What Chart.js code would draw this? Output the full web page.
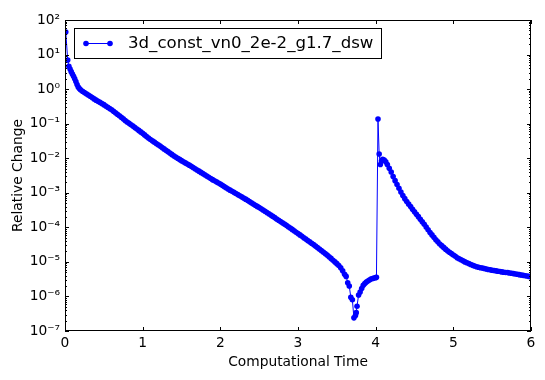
<!DOCTYPE html>
<html>
<head>
<meta charset="utf-8">
<script src="https://cdn.jsdelivr.net/npm/chart.js@4.4.1/dist/chart.umd.min.js"></script>
<style>
  html, body { margin: 0; padding: 0; background: #fff; }
  canvas { display: block; }
</style>
</head>
<body>
<canvas id="c" width="545" height="380"></canvas>
<script>
const seriesLabel = "3d_const_vn0_2e-2_g1.7_dsw";
const times = [
  0.01, 0.035, 0.05, 0.065, 0.08, 0.095, 0.11, 0.125, 0.14, 0.155, 0.17, 0.185, 0.2, 0.225,
  0.25, 0.275, 0.3, 0.325, 0.35, 0.375, 0.4, 0.425, 0.45, 0.475,
  0.5, 0.525, 0.55, 0.575, 0.6, 0.625, 0.65, 0.675, 0.7, 0.725,
  0.75, 0.775, 0.8, 0.825, 0.85, 0.875, 0.9, 0.925, 0.95, 0.975,
  1.0, 1.025, 1.05, 1.075, 1.1, 1.125, 1.15, 1.175, 1.2, 1.225,
  1.25, 1.275, 1.3, 1.325, 1.35, 1.375, 1.4, 1.425, 1.45, 1.475,
  1.5, 1.525, 1.55, 1.575, 1.6, 1.625, 1.65, 1.675, 1.7, 1.725,
  1.75, 1.775, 1.8, 1.825, 1.85, 1.875, 1.9, 1.925, 1.95, 1.975,
  2.0, 2.025, 2.05, 2.075, 2.1, 2.125, 2.15, 2.175, 2.2, 2.225,
  2.25, 2.275, 2.3, 2.325, 2.35, 2.375, 2.4, 2.425, 2.45, 2.475,
  2.5, 2.525, 2.55, 2.575, 2.6, 2.625, 2.65, 2.675, 2.7, 2.725,
  2.75, 2.775, 2.8, 2.825, 2.85, 2.875, 2.9, 2.925, 2.95, 2.975,
  3.0, 3.025, 3.05, 3.075, 3.1, 3.125, 3.15, 3.175, 3.2, 3.225,
  3.25, 3.275, 3.3, 3.325, 3.35, 3.375, 3.4, 3.425, 3.45, 3.475,
  3.5, 3.525, 3.55, 3.575, 3.6, 3.62, 3.64, 3.66, 3.68, 3.70,
  3.72, 3.74, 3.75, 3.76, 3.78, 3.80, 3.82, 3.84, 3.86, 3.88,
  3.90, 3.92, 3.94, 3.96, 3.98, 4.00, 4.01, 4.03, 4.045, 4.06,
  4.075, 4.09, 4.11, 4.13, 4.15, 4.175, 4.2, 4.225, 4.25, 4.275,
  4.3, 4.325, 4.35, 4.375, 4.4, 4.425, 4.45, 4.475, 4.5, 4.525,
  4.55, 4.575, 4.6, 4.625, 4.65, 4.675, 4.7, 4.725, 4.75, 4.775,
  4.8, 4.825, 4.85, 4.875, 4.9, 4.925, 4.95, 4.975, 5.0, 5.025,
  5.05, 5.075, 5.1, 5.125, 5.15, 5.175, 5.2, 5.225, 5.25, 5.275,
  5.3, 5.325, 5.35, 5.375, 5.4, 5.425, 5.45, 5.475, 5.5, 5.525,
  5.55, 5.575, 5.6, 5.625, 5.65, 5.675, 5.7, 5.725, 5.75, 5.775,
  5.8, 5.825, 5.85, 5.875, 5.9, 5.925, 5.95, 5.975, 6.0
];
const relChange = [
  45, 6.9, 4.6, 3.8, 3.2, 2.75, 2.35, 2.0, 1.65, 1.35, 1.15, 1.04, 0.96, 0.87,
  0.794, 0.733, 0.676, 0.620, 0.569, 0.521, 0.479, 0.444, 0.412, 0.382,
  0.355, 0.325, 0.299, 0.274, 0.251, 0.228, 0.207, 0.187, 0.170, 0.153,
  0.138, 0.124, 0.112, 0.102, 0.0933, 0.0851, 0.0776, 0.0704, 0.0638, 0.0578,
  0.0525, 0.0473, 0.0427, 0.0385, 0.0347, 0.0318, 0.0292, 0.0267, 0.0245, 0.0224,
  0.0204, 0.0186, 0.0170, 0.0155, 0.0141, 0.0129, 0.0117, 0.0108, 0.0100, 0.00923,
  0.00851, 0.00789, 0.00733, 0.00679, 0.00631, 0.00582, 0.00537, 0.00495, 0.00457, 0.00422,
  0.00389, 0.00359, 0.00331, 0.00305, 0.00282, 0.00260, 0.00240, 0.00222, 0.00207, 0.00191,
  0.00178, 0.00164, 0.00151, 0.00140, 0.00129, 0.00119, 0.00111, 0.00103, 0.000955, 0.000885,
  0.000822, 0.000762, 0.000708, 0.000653, 0.000603, 0.000556, 0.000513, 0.000473, 0.000437, 0.000403,
  0.000372, 0.000343, 0.000316, 0.000292, 0.000269, 0.000247, 0.000226, 0.000207, 0.000191, 0.000175,
  0.000160, 0.000147, 0.000135, 0.000124, 0.000114, 0.000104, 9.55e-5, 8.71e-5, 7.94e-5, 7.24e-5,
  6.61e-5, 6.03e-5, 5.50e-5, 5.01e-5, 4.57e-5, 4.17e-5, 3.80e-5, 3.47e-5, 3.16e-5, 2.86e-5,
  2.60e-5, 2.36e-5, 2.14e-5, 1.93e-5, 1.74e-5, 1.57e-5, 1.41e-5, 1.26e-5, 1.12e-5, 1.00e-5,
  8.9e-6, 7.8e-6, 6.8e-6, 5.5e-6, 4.4e-6, 3.8e-6, 2.5e-6, 2.0e-6, 9.5e-7, 8.0e-7,
  2.4e-7, 2.8e-7, 3.4e-7, 5.2e-7, 1.1e-6, 1.35e-6, 1.7e-6, 2.1e-6, 2.35e-6, 2.6e-6,
  2.8e-6, 3.0e-6, 3.2e-6, 3.3e-6, 3.4e-6, 3.5e-6, 3.6e-6, 0.136, 0.0132, 0.0066,
  0.0083, 0.0093, 0.0089, 0.0079, 0.00661, 0.00513, 0.00398, 0.00295, 0.00224, 0.00174,
  0.00135, 0.00105, 0.000832, 0.000676, 0.000562, 0.000468, 0.000398, 0.000331, 0.000282, 0.000240,
  0.000204, 0.000170, 0.000145, 0.000123, 0.000102, 8.51e-5, 7.08e-5, 6.03e-5, 5.13e-5, 4.37e-5,
  3.80e-5, 3.31e-5, 2.95e-5, 2.63e-5, 2.34e-5, 2.09e-5, 1.91e-5, 1.74e-5, 1.58e-5, 1.45e-5,
  1.32e-5, 1.23e-5, 1.15e-5, 1.07e-5, 1.00e-5, 9.44e-6, 8.91e-6, 8.41e-6, 7.94e-6, 7.59e-6,
  7.24e-6, 7.0e-6, 6.76e-6, 6.61e-6, 6.46e-6, 6.24e-6, 6.03e-6, 5.89e-6, 5.75e-6, 5.62e-6,
  5.50e-6, 5.37e-6, 5.25e-6, 5.13e-6, 5.01e-6, 4.95e-6, 4.90e-6, 4.79e-6, 4.68e-6, 4.57e-6,
  4.47e-6, 4.37e-6, 4.27e-6, 4.17e-6, 4.07e-6, 3.98e-6, 3.89e-6, 3.80e-6, 3.72e-6
];
const xTicks = [0, 1, 2, 3, 4, 5, 6];
const yTicks = [1e-7, 1e-6, 1e-5, 1e-4, 1e-3, 1e-2, 1e-1, 1e0, 1e1, 1e2];
const yTickLabels = ["10\u207B\u2077", "10\u207B\u2076", "10\u207B\u2075", "10\u207B\u2074", "10\u207B\u00B3", "10\u207B\u00B2", "10\u207B\u00B9", "10\u2070", "10\u00B9", "10\u00B2"];
const xTitle = "Computational Time";
const yTitle = "Relative Change";

const FONT = "'DejaVu Sans', sans-serif";
const BLUE = "#0000ff";

const frameTicks = {
  id: 'frameTicks',
  afterDatasetsDraw(chart) {
    const { ctx, chartArea: a, scales: { x, y } } = chart;
    ctx.save();
    ctx.strokeStyle = '#000';
    ctx.lineWidth = 1;
    ctx.beginPath();
    xTicks.forEach(v => {
      const px = Math.round(x.getPixelForValue(v)) + 0.5;
      ctx.moveTo(px, a.bottom); ctx.lineTo(px, a.bottom - 4);
      ctx.moveTo(px, a.top); ctx.lineTo(px, a.top + 4);
    });
    yTicks.forEach((v, i) => {
      const py = Math.round(y.getPixelForValue(v)) + 0.5;
      ctx.moveTo(a.left, py); ctx.lineTo(a.left + 4, py);
      ctx.moveTo(a.right, py); ctx.lineTo(a.right - 4, py);
      if (i < yTicks.length - 1) {
        for (let k = 2; k <= 9; k++) {
          const pm = Math.round(y.getPixelForValue(v * k)) + 0.5;
          ctx.moveTo(a.left, pm); ctx.lineTo(a.left + 2, pm);
          ctx.moveTo(a.right, pm); ctx.lineTo(a.right - 2, pm);
        }
      }
    });
    ctx.stroke();
    ctx.strokeRect(Math.round(a.left) + 0.5, Math.round(a.top) + 0.5,
                   Math.round(a.width) - 1, Math.round(a.height) - 1);
    // legend
    const bx = 74.5, by = 28.5, bw = 307, bh = 30;
    ctx.fillStyle = '#fff';
    ctx.fillRect(bx, by, bw, bh);
    ctx.strokeRect(bx, by, bw, bh);
    const ly = 43.5;
    ctx.strokeStyle = BLUE;
    ctx.beginPath(); ctx.moveTo(86, ly); ctx.lineTo(110, ly); ctx.stroke();
    ctx.fillStyle = BLUE;
    [86, 110].forEach(px => { ctx.beginPath(); ctx.arc(px, ly, 2.8, 0, Math.PI * 2); ctx.fill(); });
    ctx.fillStyle = '#000';
    ctx.font = "16.6px " + FONT;
    ctx.textBaseline = 'middle';
    ctx.textAlign = 'left';
    ctx.fillText(chart.data.datasets[0].label, 128, ly);
    ctx.restore();
  }
};

new Chart(document.getElementById('c'), {
  type: 'line',
  data: {
    datasets: [{
      label: seriesLabel,
      data: times.map((t, i) => ({ x: t, y: relChange[i] })),
      borderColor: BLUE,
      backgroundColor: BLUE,
      borderWidth: 1,
      pointRadius: 2.8,
      pointBorderWidth: 0,
      pointBackgroundColor: BLUE,
      tension: 0
    }]
  },
  options: {
    responsive: false,
    devicePixelRatio: 1,
    animation: false,
    layout: { padding: { top: 20, right: 14, left: 0, bottom: 0 } },
    plugins: { legend: { display: false }, tooltip: { enabled: false } },
    scales: {
      x: {
        type: 'linear', min: 0, max: 6,
        afterFit: s => { s.height = 49; },
        afterBuildTicks: s => { s.ticks = xTicks.map(v => ({ value: v })); },
        grid: { display: false, drawTicks: false },
        border: { display: false },
        ticks: { color: '#000', font: { family: FONT, size: 13.8 }, padding: 4, maxRotation: 0,
                  callback: v => String(v) },
        title: { display: true, text: xTitle, color: '#000', font: { family: FONT, size: 13.8 },
                 padding: { top: 0, bottom: 9 } }
      },
      y: {
        type: 'logarithmic', min: 1e-7, max: 1e2,
        afterFit: s => { s.width = 65; },
        afterBuildTicks: s => { s.ticks = yTicks.map(v => ({ value: v })); },
        grid: { display: false, drawTicks: false },
        border: { display: false },
        ticks: { color: '#000', font: { family: FONT, size: 13.8 }, padding: 5,
                 callback: (v) => { const i = yTicks.findIndex(t => Math.abs(Math.log10(t) - Math.log10(v)) < 1e-6); return i >= 0 ? yTickLabels[i] : ''; } },
        title: { display: true, text: yTitle, color: '#000', font: { family: FONT, size: 13.8 },
                 padding: { top: 10, bottom: 0 } }
      }
    }
  },
  plugins: [frameTicks]
});
</script>
</body>
</html>
